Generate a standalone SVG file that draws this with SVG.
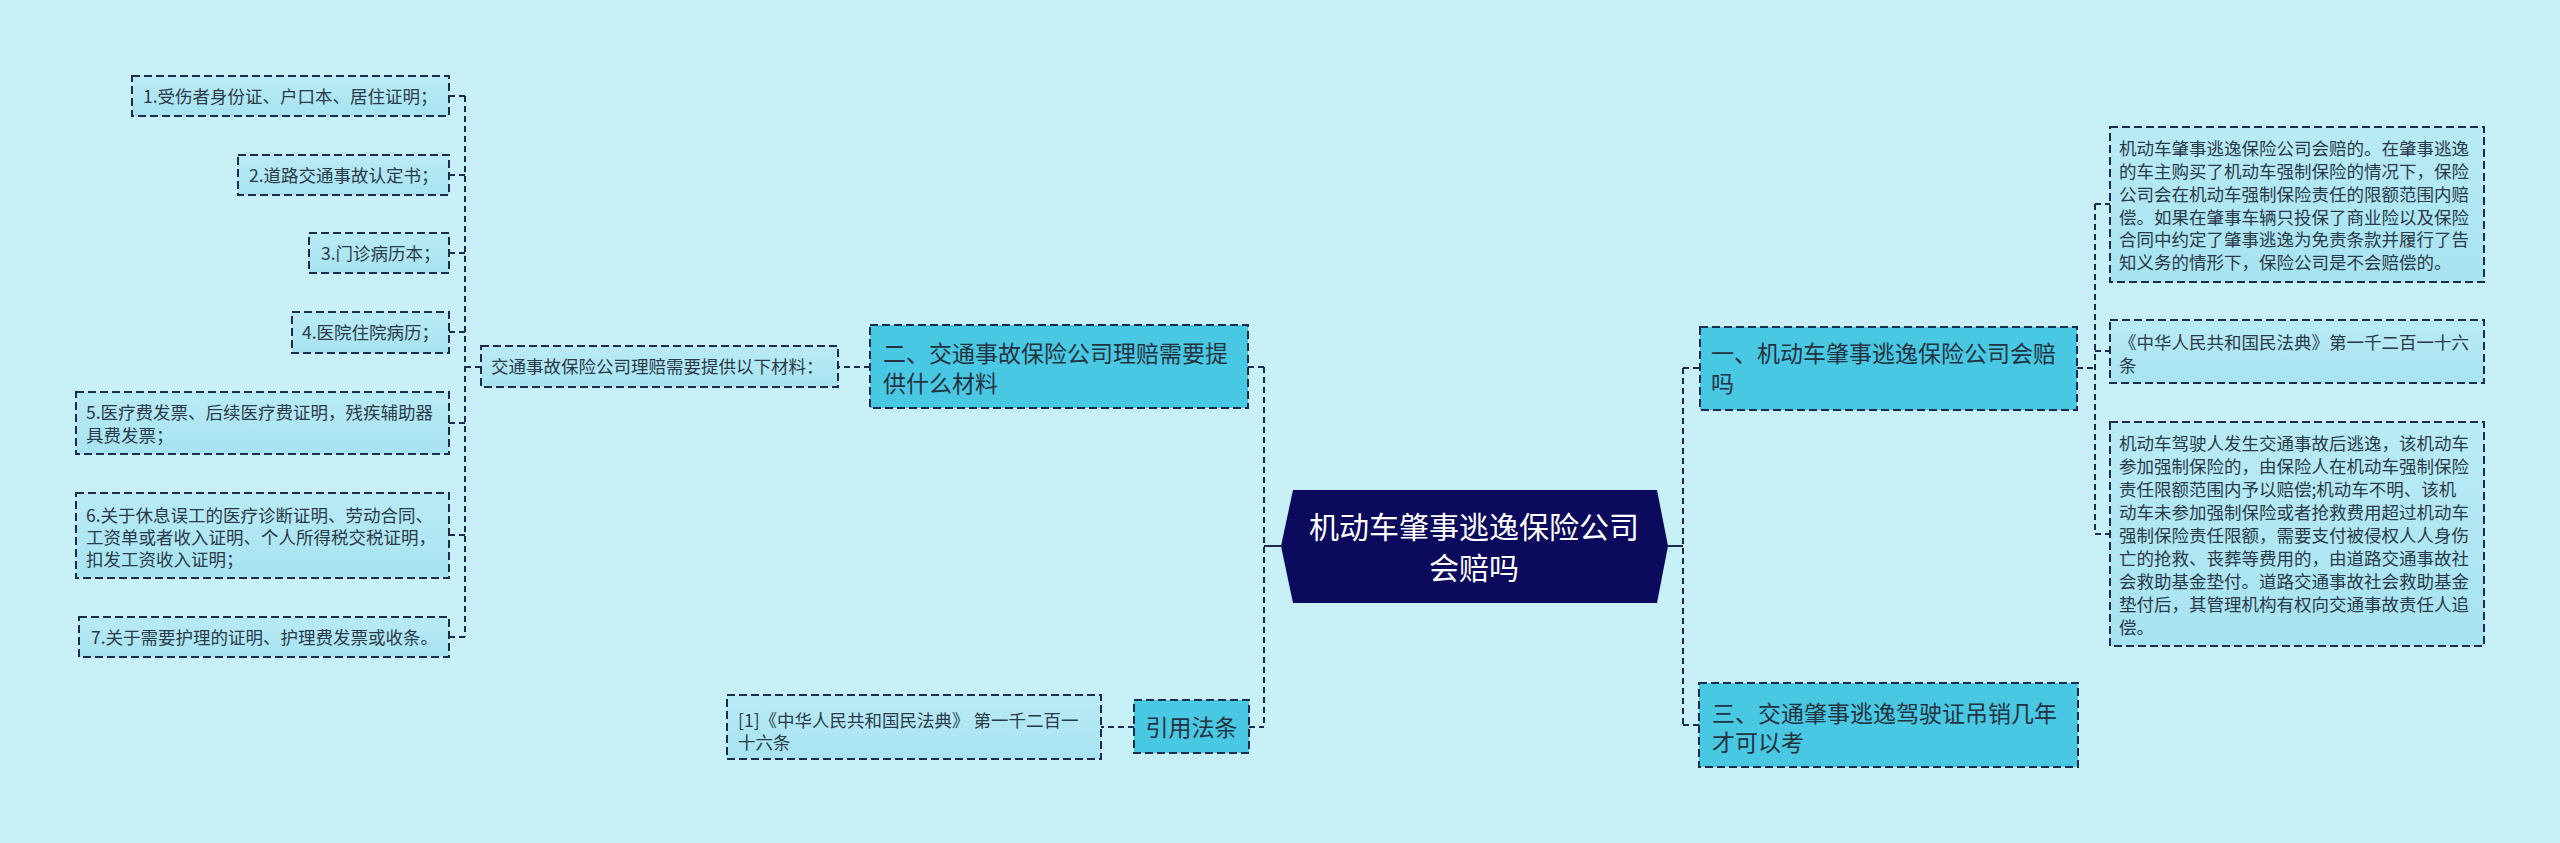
<svg xmlns="http://www.w3.org/2000/svg" width="2560" height="843" viewBox="0 0 2560 843">
<defs>
<linearGradient id="leafg" x1="0" y1="0" x2="0" y2="1">
<stop offset="0" stop-color="#b9ebf6"/>
<stop offset="1" stop-color="#a7e3f1"/>
</linearGradient>
</defs>
<style>
.bg{fill:#c8f0f7}
.leaf{fill:url(#leafg);stroke:#1d2b4f;stroke-width:2;stroke-dasharray:8 4}
.l1{fill:#48c8e2;stroke:#1d2b4f;stroke-width:2;stroke-dasharray:8 4}
.conn path{fill:none;stroke:#1d2b4f;stroke-width:2;stroke-dasharray:6 4}
.conn path.solid{stroke-dasharray:none}
.t{font-family:"Noto Sans CJK SC","Noto Sans",sans-serif;font-size:17.5px;fill:#2b3a48}
.t1{font-family:"Noto Sans CJK SC","Noto Sans",sans-serif;font-size:23px;fill:#24323f}
.tc{font-family:"Noto Sans CJK SC","Noto Sans",sans-serif;font-size:30px;fill:#ffffff;text-anchor:middle}
</style>
<rect class="bg" x="0" y="0" width="2560" height="843"/>
<g id="connectors" class="conn">
<path class="solid" d="M1281,546 H1264 M1668,546 H1683"/>
<path d="M1264,367 V727 M1248,367 H1264 M1249,727 H1264"/>
<path d="M870,367 H838 M481,367 H465 M465,96 V637"/>
<path d="M449,96 H465 M449,175 H465 M449,253 H465 M449,332 H465 M449,423 H465 M449,535 H465 M449,637 H465"/>
<path d="M1134,727 H1101"/>
<path d="M1683,368 V725 M1683,368 H1700 M1683,725 H1699"/>
<path d="M2077,368 H2095 M2095,204 V534 M2095,204 H2110 M2095,351 H2110 M2095,534 H2110"/>
</g>
<g id="center">
<polygon points="1293,490 1657,490 1668,546 1657,603 1293,603 1281,546" fill="#0b0a5c"/>
<text class="tc" x="1474" y="538">机动车肇事逃逸保险公司</text>
<text class="tc" x="1474" y="579">会赔吗</text>
</g>
<g id="n2">
<rect class="l1" x="870" y="325" width="378" height="83"/>
<text class="t1" x="883" y="362">二、交通事故保险公司理赔需要提</text>
<text class="t1" x="883" y="392">供什么材料</text>
</g>
<g id="n2a">
<rect class="leaf" x="481" y="346" width="357" height="41"/>
<text class="t" x="491" y="373">交通事故保险公司理赔需要提供以下材料：</text>
</g>
<g id="m1">
<rect class="leaf" x="132" y="76" width="317" height="40"/>
<text class="t" x="143" y="103">1.受伤者身份证、户口本、居住证明；</text>
</g>
<g id="m2">
<rect class="leaf" x="238" y="155" width="211" height="40"/>
<text class="t" x="249" y="182">2.道路交通事故认定书；</text>
</g>
<g id="m3">
<rect class="leaf" x="309" y="233" width="140" height="40"/>
<text class="t" x="321" y="260">3.门诊病历本；</text>
</g>
<g id="m4">
<rect class="leaf" x="292" y="312" width="157" height="41"/>
<text class="t" x="302" y="339">4.医院住院病历；</text>
</g>
<g id="m5">
<rect class="leaf" x="76" y="392" width="373" height="62"/>
<text class="t" x="86" y="419">5.医疗费发票、后续医疗费证明，残疾辅助器</text>
<text class="t" x="86" y="442">具费发票；</text>
</g>
<g id="m6">
<rect class="leaf" x="76" y="493" width="373" height="85"/>
<text class="t" x="86" y="522">6.关于休息误工的医疗诊断证明、劳动合同、</text>
<text class="t" x="86" y="544">工资单或者收入证明、个人所得税交税证明，</text>
<text class="t" x="86" y="566">扣发工资收入证明；</text>
</g>
<g id="m7">
<rect class="leaf" x="79" y="617" width="370" height="40"/>
<text class="t" x="91" y="644">7.关于需要护理的证明、护理费发票或收条。</text>
</g>
<g id="ref">
<rect class="l1" x="1134" y="700" width="115" height="53"/>
<text class="t1" x="1191.5" y="736" text-anchor="middle">引用法条</text>
</g>
<g id="ref1">
<rect class="leaf" x="727" y="695" width="374" height="64"/>
<text class="t" x="738" y="727">[1]《中华人民共和国民法典》 第一千二百一</text>
<text class="t" x="738" y="749">十六条</text>
</g>
<g id="n1">
<rect class="l1" x="1700" y="327" width="377" height="83"/>
<text class="t1" x="1711" y="362">一、机动车肇事逃逸保险公司会赔</text>
<text class="t1" x="1711" y="392">吗</text>
</g>
<g id="r1">
<rect class="leaf" x="2110" y="127" width="374" height="155"/>
<text class="t" x="2119" y="155">机动车肇事逃逸保险公司会赔的。在肇事逃逸</text>
<text class="t" x="2119" y="178">的车主购买了机动车强制保险的情况下，保险</text>
<text class="t" x="2119" y="201">公司会在机动车强制保险责任的限额范围内赔</text>
<text class="t" x="2119" y="224">偿。如果在肇事车辆只投保了商业险以及保险</text>
<text class="t" x="2119" y="246">合同中约定了肇事逃逸为免责条款并履行了告</text>
<text class="t" x="2119" y="269">知义务的情形下，保险公司是不会赔偿的。</text>
</g>
<g id="r2">
<rect class="leaf" x="2110" y="320" width="374" height="63"/>
<text class="t" x="2119" y="349">《中华人民共和国民法典》第一千二百一十六</text>
<text class="t" x="2119" y="372">条</text>
</g>
<g id="r3">
<rect class="leaf" x="2110" y="422" width="374" height="224"/>
<text class="t" x="2119" y="450">机动车驾驶人发生交通事故后逃逸，该机动车</text>
<text class="t" x="2119" y="473">参加强制保险的，由保险人在机动车强制保险</text>
<text class="t" x="2119" y="496">责任限额范围内予以赔偿;机动车不明、该机</text>
<text class="t" x="2119" y="519">动车未参加强制保险或者抢救费用超过机动车</text>
<text class="t" x="2119" y="542">强制保险责任限额，需要支付被侵权人人身伤</text>
<text class="t" x="2119" y="565">亡的抢救、丧葬等费用的，由道路交通事故社</text>
<text class="t" x="2119" y="588">会救助基金垫付。道路交通事故社会救助基金</text>
<text class="t" x="2119" y="611">垫付后，其管理机构有权向交通事故责任人追</text>
<text class="t" x="2119" y="634">偿。</text>
</g>
<g id="n3">
<rect class="l1" x="1699" y="683" width="379" height="84"/>
<text class="t1" x="1712" y="722">三、交通肇事逃逸驾驶证吊销几年</text>
<text class="t1" x="1712" y="751">才可以考</text>
</g>
</svg>
